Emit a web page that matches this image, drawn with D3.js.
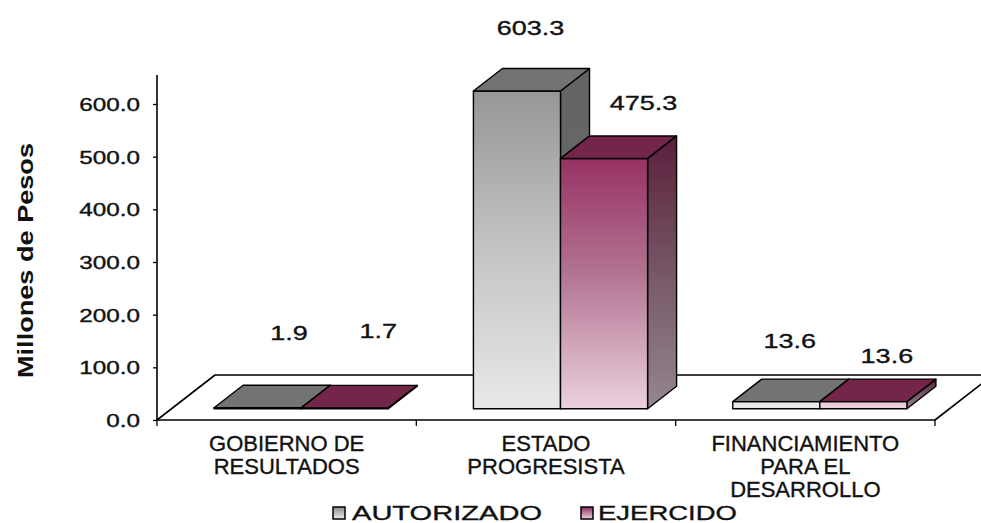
<!DOCTYPE html>
<html>
<head>
<meta charset="utf-8">
<script src="https://cdn.jsdelivr.net/npm/d3@7/dist/d3.min.js"></script>
<style>
  html, body { margin: 0; padding: 0; background: #ffffff; }
  svg { display: block; }
  .lbl { font-family: 'Liberation Sans', Arial, sans-serif; fill: #111; stroke: #111; stroke-width: 0.35px; }
</style>
</head>
<body>
<svg id="chart" width="981" height="523"></svg>
<script>
// ---- data ----
const categoryLines = [
  ["GOBIERNO DE", "RESULTADOS"],
  ["ESTADO", "PROGRESISTA"],
  ["FINANCIAMIENTO", "PARA EL", "DESARROLLO"]
];
const seriesNames = ["AUTORIZADO", "EJERCIDO"];
const autorizado = [1.9, 603.3, 13.6];
const ejercido = [1.7, 475.3, 13.6];
const yTicks = [0, 100, 200, 300, 400, 500, 600];
const yTitle = "Millones de Pesos";

// ---- layout ----
const svg = d3.select("#chart");
const plot = { left: 157, right: 935, floorY: 420, axisTop: 75 };
const depth = { dx: 58, dy: -45 };          // full floor depth (oblique projection)
const barDepth = [0.25, 0.75];              // bars sit in the middle half of the floor
const stretch = 1.35;                       // wide numeric lettering

const y = d3.scaleLinear().domain([0, 600]).range([plot.floorY, plot.floorY - 316]);
const x = d3.scaleBand().domain(d3.range(categoryLines.length))
  .range([plot.left, plot.right]).paddingInner(0).paddingOuter(0);
const xs = d3.scaleBand().domain(seriesNames)
  .range([0, x.bandwidth()]).paddingInner(0).paddingOuter(0.489);

const proj = (px, d, v) => [px + depth.dx * d, y(v) + depth.dy * d];

const series = [
  { name: seriesNames[0], values: autorizado, top: "#737373", side: "url(#gSideA)", front: "url(#gFrontA)" },
  { name: seriesNames[1], values: ejercido, top: "#74264a", side: "url(#gSideB)", front: "url(#gFrontB)" }
];

// ---- gradients ----
const defs = svg.append("defs");
function linGrad(id, stops, attrs) {
  const g = defs.append("linearGradient").attr("id", id);
  Object.entries(attrs).forEach(([k, v]) => g.attr(k, v));
  stops.forEach(([o, c]) => g.append("stop").attr("offset", o).attr("stop-color", c));
}
const bottomFront = proj(0, barDepth[0], 0)[1];
linGrad("gFrontA", [[0, "#969696"], [0.5, "#c4c4c4"], [1, "#e8e8e8"]],
  { gradientUnits: "userSpaceOnUse", x1: 0, x2: 0, y1: proj(0, barDepth[0], d3.max(autorizado))[1], y2: bottomFront });
linGrad("gFrontB", [[0, "#983264"], [0.45, "#b17290"], [1, "#ebd1de"]],
  { gradientUnits: "userSpaceOnUse", x1: 0, x2: 0, y1: proj(0, barDepth[0], d3.max(ejercido))[1], y2: bottomFront });
linGrad("gSideA", [[0, "#646464"], [1, "#6c6c6c"]], { x1: 0, x2: 0, y1: 0, y2: 1 });
linGrad("gSideB", [[0, "#5b1f3b"], [0.5, "#765766"], [1, "#958690"]], { x1: 0, x2: 0, y1: 0, y2: 1 });
linGrad("gLegA", [[0, "#8c8c8c"], [1, "#ececec"]], { x1: 0, x2: 0, y1: 0, y2: 1 });
linGrad("gLegB", [[0, "#8e2c5c"], [1, "#efd6e2"]], { x1: 0, x2: 0, y1: 0, y2: 1 });

// ---- floor ----
const floorPts = [
  proj(plot.left, 0, 0), proj(plot.right, 0, 0),
  proj(plot.right, 1, 0), proj(plot.left, 1, 0)
];
svg.append("polygon")
  .attr("points", floorPts.map(p => p.join(",")).join(" "))
  .attr("fill", "#ffffff").attr("stroke", "#000").attr("stroke-width", 1.6)
  .attr("stroke-linejoin", "round");

// x-axis tick marks at category boundaries
const bounds = x.domain().map(i => x(i)).concat([plot.right]);
svg.append("g").selectAll("line").data(bounds).join("line")
  .attr("x1", d => d).attr("x2", d => d)
  .attr("y1", plot.floorY).attr("y2", plot.floorY + 6)
  .attr("stroke", "#000").attr("stroke-width", 1.3);

// ---- y axis ----
const yAxis = d3.axisLeft(y).tickValues(yTicks).tickFormat(d3.format(".1f"))
  .tickSize(4).tickSizeOuter(0).tickPadding(0);
const gy = svg.append("g").attr("transform", `translate(${plot.left},0)`).call(yAxis);
gy.select(".domain").remove();
gy.append("line").attr("x1", 0).attr("x2", 0)
  .attr("y1", plot.floorY).attr("y2", plot.axisTop)
  .attr("stroke", "#000").attr("stroke-width", 1.6);
gy.selectAll(".tick line").attr("stroke", "#000").attr("stroke-width", 1.3);
gy.selectAll(".tick text")
  .attr("class", "lbl")
  .attr("x", -17 / stretch).attr("dy", "0.36em")
  .attr("transform", `scale(${stretch},1)`)
  .style("font-size", "18px");
gy.attr("font-family", null).attr("font-size", null);

// y title
svg.append("text")
  .attr("transform", "translate(33,260.5) rotate(-90)")
  .attr("text-anchor", "middle")
  .attr("textLength", 235).attr("lengthAdjust", "spacingAndGlyphs")
  .style("font-family", "'Liberation Sans', Arial, sans-serif")
  .style("font-size", "22px").style("font-weight", "bold")
  .attr("fill", "#111")
  .text(yTitle);

// ---- bars ----
const bars = [];
categoryLines.forEach((_, ci) => {
  series.forEach((s, si) => {
    const xa = x(ci) + xs(s.name), xb = xa + xs.bandwidth();
    bars.push({ ci, si, s, v: s.values[ci], xa, xb });
  });
});
const gBars = svg.append("g");
bars.forEach(b => {
  const [d0, d1] = barDepth;
  const g = gBars.append("g");
  const poly = pts => pts.map(p => p.join(",")).join(" ");
  // side face
  g.append("polygon")
    .attr("points", poly([proj(b.xb, d0, 0), proj(b.xb, d1, 0), proj(b.xb, d1, b.v), proj(b.xb, d0, b.v)]))
    .attr("fill", b.s.side).attr("stroke", "#000").attr("stroke-width", 1.4).attr("stroke-linejoin", "round");
  // front face
  g.append("polygon")
    .attr("points", poly([proj(b.xa, d0, 0), proj(b.xb, d0, 0), proj(b.xb, d0, b.v), proj(b.xa, d0, b.v)]))
    .attr("fill", b.s.front).attr("stroke", "#000").attr("stroke-width", 1.4).attr("stroke-linejoin", "round");
  // top face
  g.append("polygon")
    .attr("points", poly([proj(b.xa, d0, b.v), proj(b.xb, d0, b.v), proj(b.xb, d1, b.v), proj(b.xa, d1, b.v)]))
    .attr("fill", b.s.top).attr("stroke", "#000").attr("stroke-width", 1.4).attr("stroke-linejoin", "round");
});

// ---- value labels ----
// label placement nudges relative to the centre of each bar's top face
const labelNudge = [
  [[17, -64], [19, -66]],
  [[-1, -52], [25, -44]],
  [[-1, -50], [9, -35]]
];
const gLab = svg.append("g");
bars.forEach(b => {
  const c = proj((b.xa + b.xb) / 2, (barDepth[0] + barDepth[1]) / 2, b.v);
  const [nx, ny] = labelNudge[b.ci][b.si];
  gLab.append("text").attr("class", "lbl")
    .attr("transform", `translate(${c[0] + nx},${c[1] + ny}) scale(${stretch},1)`)
    .attr("text-anchor", "middle").attr("dy", "0.36em")
    .style("font-size", "20px")
    .text(d3.format(".1f")(b.v));
});

// ---- category labels ----
const gCat = svg.append("g");
categoryLines.forEach((lines, ci) => {
  const cx = x(ci) + x.bandwidth() / 2;
  const t = gCat.append("text").attr("class", "lbl")
    .attr("x", cx)
    .attr("y", 443)
    .attr("text-anchor", "middle")
    .style("font-size", "22px");
  lines.forEach((ln, li) => {
    t.append("tspan").attr("x", cx)
      .attr("dy", li === 0 ? "0.36em" : "1.04em").text(ln);
  });
});

// ---- legend ----
const legend = [
  { name: seriesNames[0], fill: "url(#gLegA)", sx: 333, tx: 352, w: 190 },
  { name: seriesNames[1], fill: "url(#gLegB)", sx: 581, tx: 598, w: 139 }
];
const gLeg = svg.append("g");
legend.forEach(l => {
  gLeg.append("rect").attr("x", l.sx).attr("y", 507).attr("width", 12).attr("height", 12)
    .attr("fill", l.fill).attr("stroke", "#000").attr("stroke-width", 1.5);
  gLeg.append("text").attr("class", "lbl").attr("x", l.tx).attr("y", 512).attr("dy", "0.36em")
    .attr("textLength", l.w).attr("lengthAdjust", "spacingAndGlyphs")
    .style("font-size", "21px")
    .text(l.name);
});
</script>
</body>
</html>
